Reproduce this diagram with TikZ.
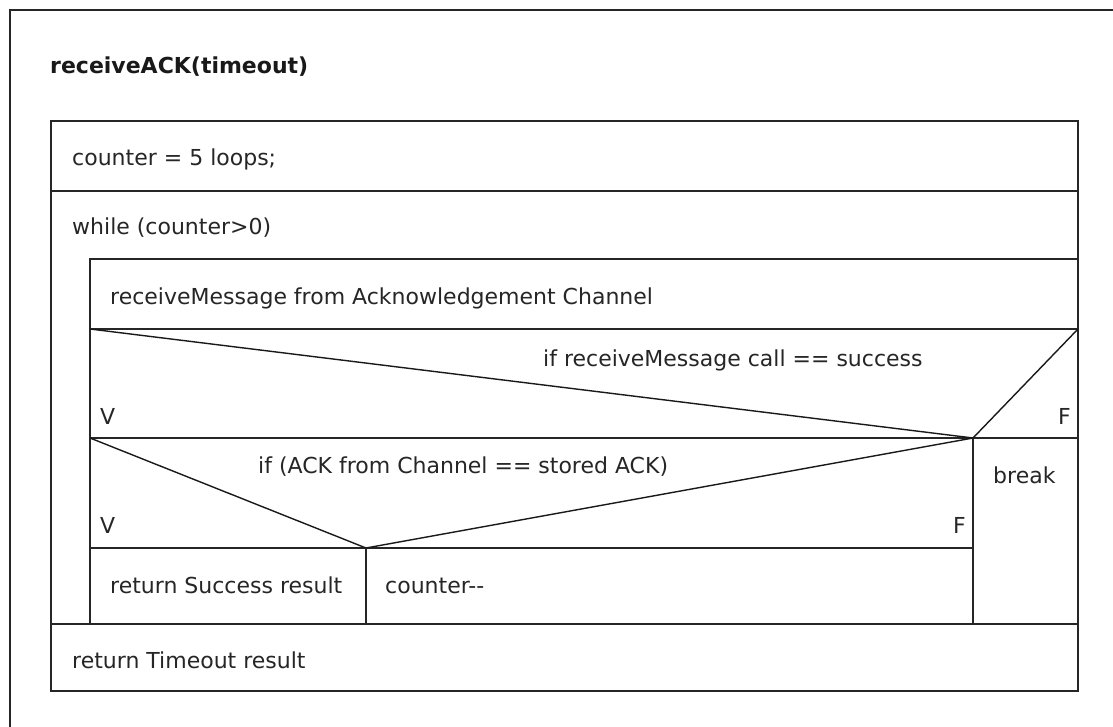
\documentclass[tikz,border=0pt]{standalone}
\usepackage{fontspec}
\setmainfont{DejaVu Sans}
\begin{document}
\begin{tikzpicture}[x=1pt,y=-1pt,
  frame/.style={line width=1.7pt,draw=black!85,line join=miter},
  diag/.style={line width=1.4pt,draw=black!90},
  lbl/.style={anchor=base west,inner sep=0pt,text=black!85,font=\fontsize{22}{26}\selectfont},
  ttl/.style={anchor=base west,inner sep=0pt,text=black!90,font=\fontsize{22}{26}\selectfont\bfseries}]
\useasboundingbox (0,0) rectangle (1113,727);
\fill[white] (0,0) rectangle (1113,727);

% outer page frame (runs off the right and bottom edges)
\draw[frame] (10,727) -- (10,10) -- (1113,10);

% key corners of the structogram
\coordinate (TL) at (51,121);
\coordinate (BR) at (1078,691);
\coordinate (d1v) at (973,438);
\coordinate (d2v) at (366,548);

% main block
\draw[frame] (TL) rectangle (BR);
\draw[frame] (51,191) -- (1078,191);
% loop body
\draw[frame] (90,259) rectangle (1078,624);
\draw[frame] (51,624) -- (1078,624);
\draw[frame] (90,329) -- (1078,329);
\draw[frame] (90,438) -- (1078,438);
% first decision
\draw[diag] (90,329) -- (d1v) -- (1078,329);
\draw[frame] (d1v) -- (973,624);
% second decision
\draw[frame] (90,548) -- (973,548);
\draw[diag] (90,438) -- (d2v) -- (d1v);
\draw[frame] (d2v) -- (366,624);

% texts
\node[ttl] (title) at (50,74) {receiveACK(timeout)};
\node[lbl] (init) at (72,166) {counter = 5 loops;};
\node[lbl] (loop) at (72,235) {while (counter>0)};
\node[lbl] (recv) at (110,304) {receiveMessage from Acknowledgement Channel};
\node[lbl] (cond1) at (543,366) {if receiveMessage call == success};
\node[lbl] (v1) at (100,424) {V};
\node[lbl,anchor=base east] (f1) at (1071,424) {F};
\node[lbl] (cond2) at (258,473) {if (ACK from Channel == stored ACK)};
\node[lbl] (v2) at (100,533) {V};
\node[lbl,anchor=base east] (f2) at (966,533) {F};
\node[lbl] (brk) at (993,483) {break};
\node[lbl] (succ) at (110,593) {return Success result};
\node[lbl] (dec) at (385,593) {counter{-}{-}};
\node[lbl] (tout) at (72,668) {return Timeout result};
\end{tikzpicture}
\end{document}
